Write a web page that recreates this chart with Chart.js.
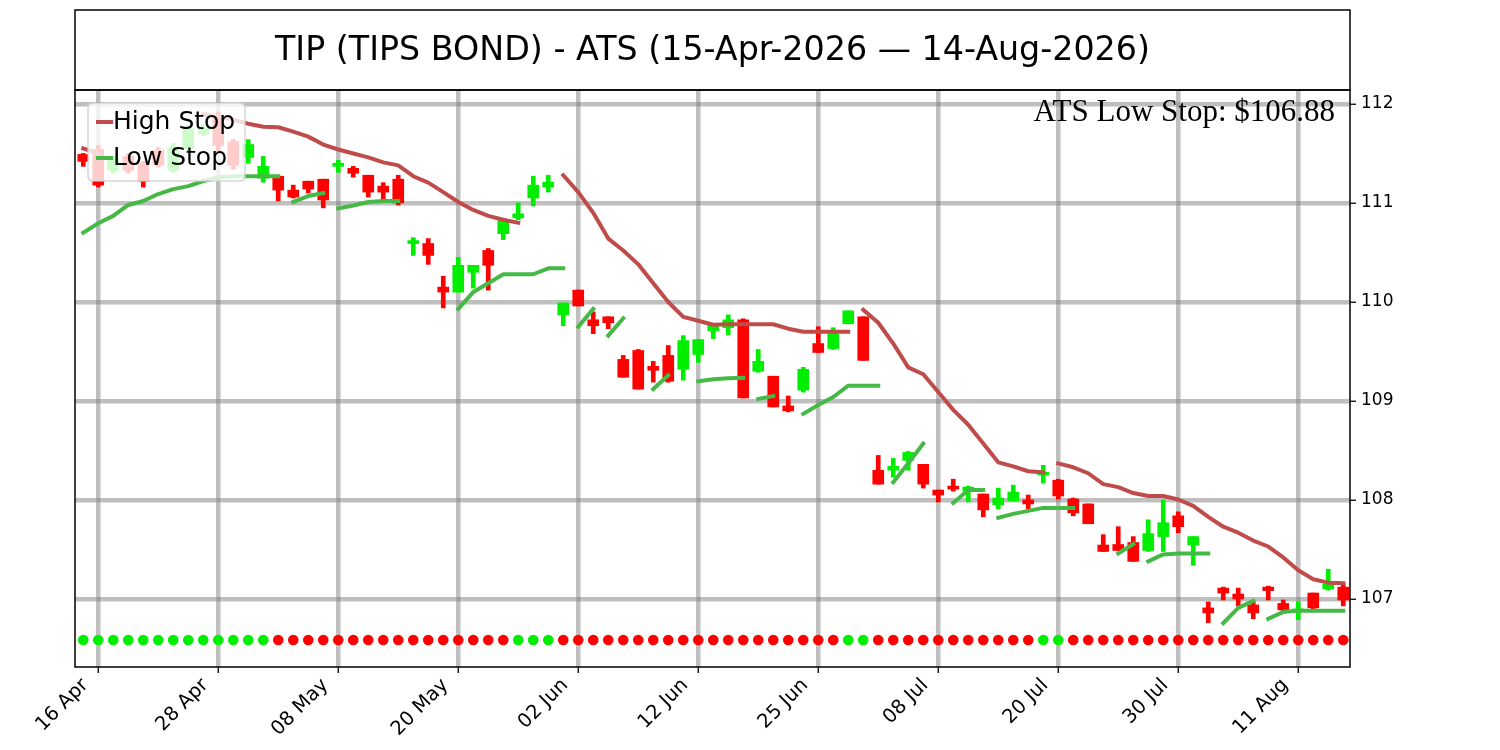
<!DOCTYPE html>
<html lang="en">
<head>
<meta charset="UTF-8">
<title>TIP (TIPS BOND) - ATS</title>
<style>
  body { margin: 0; background: #ffffff; }
</style>
</head>
<body>
<canvas id="myChart" width="1500" height="750"></canvas>

<script src="https://cdn.jsdelivr.net/npm/chart.js"></script>
<script>
// ---- data (trading-day index 0 = 15 Apr 2026) ----
const titleText = 'TIP (TIPS BOND) - ATS (15-Apr-2026 \u2014 14-Aug-2026)';
const noteText = 'ATS Low Stop: $106.88';

const tickIdx = [1, 9, 17, 25, 33, 41, 49, 57, 65, 73, 81];
const tickLabels = ['16 Apr', '28 Apr', '08 May', '20 May', '02 Jun', '12 Jun',
                    '25 Jun', '08 Jul', '20 Jul', '30 Jul', '11 Aug'];
const yTicks = [107, 108, 109, 110, 111, 112];

const opens = [
  111.49, 111.54, 111.33, 111.47, 111.40, 111.53, 111.33, 111.55, 111.70, 111.86,
  111.62, 111.46, 111.25, 111.27, 111.13, 111.22, 111.24, 111.37, 111.35, 111.28,
  111.17, 111.24, 110.59, 110.59, 110.15, 110.10, 110.30, 110.52, 110.69, 110.85,
  111.05, 111.16, 109.87, 110.12, 109.82, 109.85, 109.42, 109.51, 109.35, 109.46,
  109.32, 109.47, 109.71, 109.74, 109.82, 109.30, 109.25, 108.95, 109.11, 109.58,
  109.53, 109.78, 109.85, 108.30, 108.30, 108.40, 108.36, 108.10, 108.14, 108.09,
  108.06, 107.95, 107.99, 108.00, 108.25, 108.20, 108.01, 107.96, 107.545, 107.55,
  107.57, 107.49, 107.63, 107.84, 107.545, 106.91, 107.11, 107.05, 106.94, 107.12,
  106.955, 106.88, 107.06, 107.10, 107.12
];
const closes = [
  111.42, 111.18, 111.45, 111.33, 111.22, 111.38, 111.56, 111.75, 111.76, 111.58,
  111.38, 111.59, 111.37, 111.13, 111.06, 111.14, 111.03, 111.40, 111.30, 111.11,
  111.11, 111.00, 110.62, 110.47, 110.10, 110.37, 110.37, 110.37, 110.83, 110.89,
  111.18, 111.21, 109.99, 109.96, 109.76, 109.79, 109.24, 109.12, 109.31, 109.20,
  109.61, 109.62, 109.77, 109.82, 109.03, 109.40, 108.94, 108.90, 109.32, 109.49,
  109.68, 109.91, 109.41, 108.16, 108.34, 108.48, 108.16, 108.05, 108.11, 108.13,
  107.90, 108.02, 108.08, 107.96, 108.28, 108.04, 107.87, 107.76, 107.48, 107.49,
  107.38, 107.66, 107.77, 107.73, 107.63, 106.86, 107.06, 107.00, 106.86, 107.085,
  106.89, 106.90, 106.91, 107.15, 106.99
];
const highs = [
  111.50, 111.58, 111.47, 111.50, 111.42, 111.56, 111.60, 111.78, 111.79, 111.92,
  111.64, 111.64, 111.47, 111.27, 111.18, 111.22, 111.24, 111.43, 111.37, 111.28,
  111.205, 111.28, 110.65, 110.64, 110.26, 110.45, 110.37, 110.54, 110.84, 111.00,
  111.27, 111.28, 109.99, 110.12, 109.90, 109.85, 109.46, 109.52, 109.40, 109.56,
  109.66, 109.62, 109.78, 109.87, 109.83, 109.52, 109.25, 109.05, 109.34, 109.75,
  109.74, 109.91, 109.85, 108.45, 108.42, 108.49, 108.36, 108.10, 108.21, 108.14,
  108.06, 108.12, 108.15, 108.05, 108.35, 108.21, 108.02, 107.96, 107.65, 107.73,
  107.63, 107.80, 108.00, 107.88, 107.63, 106.97, 107.12, 107.11, 106.97, 107.13,
  106.99, 106.97, 107.06, 107.30, 107.16
];
const lows = [
  111.37, 111.16, 111.30, 111.30, 111.16, 111.36, 111.31, 111.53, 111.68, 111.50,
  111.34, 111.40, 111.21, 111.02, 111.05, 111.10, 110.95, 111.31, 111.26, 111.06,
  111.02, 110.98, 110.47, 110.38, 109.94, 110.10, 110.14, 110.12, 110.63, 110.83,
  110.97, 111.11, 109.76, 109.96, 109.68, 109.73, 109.24, 109.12, 109.19, 109.19,
  109.21, 109.39, 109.63, 109.67, 109.03, 109.29, 108.94, 108.89, 109.09, 109.49,
  109.52, 109.78, 109.41, 108.16, 108.23, 108.30, 108.12, 107.98, 108.09, 107.98,
  107.83, 107.91, 107.99, 107.91, 108.17, 108.01, 107.84, 107.76, 107.48, 107.49,
  107.38, 107.48, 107.48, 107.67, 107.34, 106.76, 106.99, 106.93, 106.80, 106.99,
  106.855, 106.79, 106.90, 107.09, 106.93
];

const highStop = [
  111.55, 111.50, null, null, null, null, null, null, 111.90, 111.87,
  111.84, 111.80, 111.77, 111.765, 111.72, 111.67, 111.59, 111.54, 111.50, 111.46,
  111.41, 111.38, 111.27, 111.205, 111.11, 111.01, 110.93, 110.87, 110.83, 110.80,
  null, null, 111.28, 111.11, 110.90, 110.64, 110.52, 110.38, 110.19, 110.00,
  109.85, 109.81, 109.77, 109.775, 109.775, 109.775, 109.775, 109.73, 109.70, 109.70,
  109.70, 109.70, 109.92, 109.79, 109.58, 109.34, 109.27, 109.09, 108.91, 108.76,
  108.57, 108.38, 108.34, 108.29, 108.28, 108.37, 108.33, 108.27, 108.16, 108.13,
  108.07, 108.04, 108.04, 108.005, 107.94, 107.83, 107.73, 107.67, 107.59, 107.53,
  107.42, 107.29, 107.20, 107.165, 107.16
];
const highStopBreaks = [51, 64];

const lowStop = [
  110.70, 110.795, 110.87, 110.98, 111.02, 111.09, 111.14, 111.17, 111.22, 111.26,
  111.27, 111.27, 111.27, 111.27, 111.01, 111.07, 111.10, 110.945, 110.975, 111.01,
  111.02, 111.02, null, null, null, 109.93, 110.10, 110.19, 110.28, 110.28,
  110.28, 110.34, 110.34, 109.75, 109.93, 109.66, 109.835, null, 109.12, 109.26,
  null, 109.20, 109.22, 109.23, 109.235, 109.02, 109.05, null, 108.87, 108.96,
  109.04, 109.155, 109.155, 109.155, 108.18, 108.37, 108.57, null, 107.97, 108.10,
  108.10, 107.82, 107.86, 107.89, 107.92, 107.92, 107.92, null, null, 107.46,
  107.555, 107.38, 107.45, 107.46, 107.46, 107.46, 106.755, 106.91, 106.98, 106.80,
  106.87, 106.88, 106.88, 106.88, 106.88
];
const lowStopBreaks = [13, 16, 32, 34, 44, 53, 60, 70, 75, 78];

// 1 = long (green dot), -1 = short (red dot)
const trend = [
   1,  1,  1,  1,  1,  1,  1,  1,  1,  1,
   1,  1,  1, -1, -1, -1, -1, -1, -1, -1,
  -1, -1, -1, -1, -1, -1, -1, -1, -1,  1,
   1,  1, -1, -1, -1, -1, -1, -1, -1, -1,
  -1, -1, -1, -1, -1, -1, -1, -1, -1, -1,
  -1,  1,  1, -1, -1, -1, -1, -1, -1, -1,
  -1, -1, -1, -1,  1,  1, -1, -1, -1, -1,
  -1, -1, -1, -1, -1, -1, -1, -1, -1, -1,
  -1, -1, -1, -1, -1
];
const signalLevel = 106.585;

// ---- styles ----
const C_UP = '#00ee00';
const C_DOWN = '#ff0000';
const C_HIGH = '#c04b4b';
const C_LOW = '#45b945';
const GRID = 'rgba(128,128,128,0.5)';
const SANS = '"DejaVu Sans"';

const candleColors = opens.map((o, i) => closes[i] >= o ? C_UP : C_DOWN);
const wickData = opens.map((o, i) => ({ x: i, y: [lows[i], highs[i]] }));
const bodyData = opens.map((o, i) => ({ x: i, y: [Math.min(o, closes[i]), Math.max(o, closes[i])] }));
const highData = highStop.map((v, i) => ({ x: i, y: v }));
const lowData = lowStop.map((v, i) => ({ x: i, y: v }));
const dotData = trend.map((t, i) => ({ x: i, y: signalLevel }));
const dotColors = trend.map(t => t > 0 ? C_UP : C_DOWN);

// title box, plot frame, note text and legend
const decor = {
  id: 'decor',
  afterDatasetsDraw(chart) {
    const ctx = chart.ctx;
    const a = chart.chartArea;
    ctx.save();
    ctx.fillStyle = '#000';
    ctx.font = '31px "Liberation Serif"';
    ctx.textAlign = 'right';
    ctx.textBaseline = 'alphabetic';
    ctx.fillText(noteText, a.right - 15, a.top + 31);

    // legend box
    const lx = a.left + 13, ly = a.top + 13, lw = 157, lh = 78, r = 5;
    ctx.beginPath();
    ctx.moveTo(lx + r, ly);
    ctx.lineTo(lx + lw - r, ly);
    ctx.quadraticCurveTo(lx + lw, ly, lx + lw, ly + r);
    ctx.lineTo(lx + lw, ly + lh - r);
    ctx.quadraticCurveTo(lx + lw, ly + lh, lx + lw - r, ly + lh);
    ctx.lineTo(lx + r, ly + lh);
    ctx.quadraticCurveTo(lx, ly + lh, lx, ly + lh - r);
    ctx.lineTo(lx, ly + r);
    ctx.quadraticCurveTo(lx, ly, lx + r, ly);
    ctx.closePath();
    ctx.fillStyle = 'rgba(255,255,255,0.8)';
    ctx.fill();
    ctx.strokeStyle = 'rgba(204,204,204,0.8)';
    ctx.lineWidth = 1.5;
    ctx.stroke();

    const items = [
      { label: chart.data.datasets[0].label, color: C_HIGH, y: ly + 19 },
      { label: chart.data.datasets[1].label, color: C_LOW, y: ly + 55 }
    ];
    ctx.font = '25px ' + SANS;
    ctx.textAlign = 'left';
    ctx.textBaseline = 'middle';
    items.forEach(it => {
      ctx.strokeStyle = it.color;
      ctx.lineWidth = 4;
      ctx.beginPath();
      ctx.moveTo(lx + 8, it.y);
      ctx.lineTo(lx + 25, it.y);
      ctx.stroke();
      ctx.fillStyle = '#000';
      ctx.fillText(it.label, lx + 25, it.y);
    });
    ctx.restore();
  },
  afterDraw(chart) {
    const ctx = chart.ctx;
    const a = chart.chartArea;
    ctx.save();
    ctx.strokeStyle = '#000';
    ctx.lineWidth = 1.5;
    ctx.strokeRect(a.left, a.top, a.right - a.left, a.bottom - a.top);
    ctx.strokeRect(a.left, 10, a.right - a.left, a.top - 10);
    ctx.fillStyle = '#000';
    ctx.font = '33.3px ' + SANS;
    ctx.textAlign = 'center';
    ctx.textBaseline = 'middle';
    ctx.fillText(titleText, (a.left + a.right) / 2, (10 + a.top) / 2 + 1);
    ctx.restore();
  }
};

const ctx = document.getElementById('myChart');

new Chart(ctx, {
  type: 'bar',
  data: {
    datasets: [
      {
        type: 'line',
        label: 'High Stop',
        data: highData,
        borderColor: C_HIGH,
        borderWidth: 4,
        borderCapStyle: 'square',
        borderJoinStyle: 'round',
        pointRadius: 0,
        spanGaps: false,
        tension: 0,
        order: 1,
        segment: {
          borderColor: c => highStopBreaks.includes(c.p0DataIndex) ? 'rgba(0,0,0,0)' : C_HIGH
        }
      },
      {
        type: 'line',
        label: 'Low Stop',
        data: lowData,
        borderColor: C_LOW,
        borderWidth: 4,
        borderCapStyle: 'square',
        borderJoinStyle: 'round',
        pointRadius: 0,
        spanGaps: false,
        tension: 0,
        order: 1,
        segment: {
          borderColor: c => lowStopBreaks.includes(c.p0DataIndex) ? 'rgba(0,0,0,0)' : C_LOW
        }
      },
      {
        type: 'line',
        label: 'Signal',
        data: dotData,
        showLine: false,
        pointRadius: 5.3,
        pointBorderWidth: 0,
        pointBackgroundColor: dotColors,
        order: 0
      },
      {
        label: 'Body',
        data: bodyData,
        backgroundColor: candleColors,
        barThickness: 11,
        grouped: false,
        borderWidth: 0,
        order: 2
      },
      {
        label: 'Wick',
        data: wickData,
        backgroundColor: candleColors,
        barThickness: 4,
        grouped: false,
        borderWidth: 0,
        order: 3
      }
    ]
  },
  options: {
    responsive: false,
    devicePixelRatio: 1,
    animation: false,
    layout: { padding: { left: 75, top: 90, right: 0, bottom: 0 } },
    plugins: {
      legend: { display: false },
      title: { display: false },
      tooltip: { enabled: false }
    },
    scales: {
      x: {
        type: 'linear',
        min: -0.55,
        max: 84.45,
        offset: false,
        afterBuildTicks: s => { s.ticks = tickIdx.map(v => ({ value: v })); },
        afterFit: s => { s.height = 83; },
        border: { display: false },
        grid: {
          offset: false,
          color: GRID,
          lineWidth: 4.5,
          tickColor: '#000',
          tickWidth: 1.3,
          tickLength: 6
        },
        ticks: {
          autoSkip: false,
          minRotation: 45,
          maxRotation: 45,
          padding: 1,
          labelOffset: -13,
          color: '#000',
          font: { family: 'DejaVu Sans', size: 19.5 },
          callback: (v, i) => tickLabels[i]
        }
      },
      y: {
        position: 'right',
        min: 106.313,
        max: 112.141,
        afterBuildTicks: s => { s.ticks = yTicks.map(v => ({ value: v })); },
        afterFit: s => { s.width = 150; },
        border: { display: false },
        grid: {
          color: GRID,
          lineWidth: 4.5,
          tickColor: '#000',
          tickWidth: 1.3,
          tickLength: 6
        },
        ticks: {
          padding: 5,
          color: '#000',
          font: { family: 'DejaVu Sans', size: 17 },
          callback: v => String(v)
        }
      }
    }
  },
  plugins: [decor]
});
</script>
</body>
</html>
